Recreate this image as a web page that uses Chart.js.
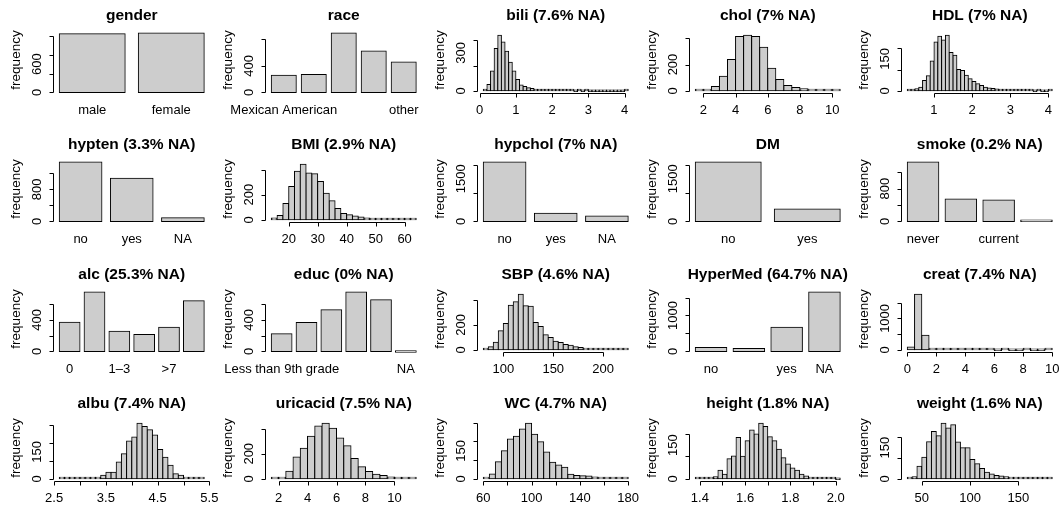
<!DOCTYPE html>
<html>
<head>
<meta charset="utf-8">
<script src="https://cdn.jsdelivr.net/npm/chart.js@4.4.1/dist/chart.umd.min.js"></script>
<style>
  html, body { margin: 0; padding: 0; background: #fff; overflow: hidden; }
  #grid { position: relative; width: 1060px; height: 506px; overflow: hidden; }
  #grid canvas { position: absolute; }
</style>
</head>
<body>
<div id="grid"></div>
<script>
// ---- data ----
const genderCats = ['male', 'female'];
const genderCounts = [1250, 1264];
const genderYTicks = [0, 200, 400, 600, 800, 1000, 1200];

const raceCats = ['Mexican American', 'Other Hispanic', 'Non-Hispanic White', 'Non-Hispanic Black', 'other'];
const raceCounts = [259, 269, 893, 624, 457];
const raceShown = ['Mexican American', 'other'];
const raceYTicks = [0, 200, 400, 600, 800];

const biliCounts = [13, 50, 157, 334, 440, 387, 313, 225, 157, 90, 45, 34, 24, 18, 10, 8, 5, 4, 3, 3,
  2, 2, 1, 1, 1, 0, 1, 0, 1, 0, 0, 0, 0, 0, 0, 0, 0, 0, 0, 1];
const biliBreaks = [0.1, 0.1]; // first break, bin width
const biliXTicks = [0, 1, 2, 3, 4];

const cholCounts = [2, 5, 33, 111, 238, 413, 423, 413, 332, 172, 86, 40, 25, 15, 8, 5, 4, 2];
const cholBreaks = [1.5, 0.5];
const cholXTicks = [2, 4, 6, 8, 10];

const hdlCounts = [2, 3, 9, 17, 49, 71, 140, 230, 257, 240, 262, 180, 167, 100, 96, 73, 57, 44, 33, 25,
  17, 13, 11, 8, 6, 5, 4, 3, 2, 2, 1, 1, 1, 0, 1, 0, 0, 1];
const hdlBreaks = [0.3, 0.1];
const hdlXTicks = [1, 2, 3, 4];

const hyptenCats = ['no', 'yes', 'NA'];
const hyptenCounts = [1480, 1075, 88];
const hyptenYTicks = [0, 200, 400, 600, 800, 1000, 1200, 1400];

const bmiCounts = [14, 35, 130, 265, 386, 443, 373, 368, 305, 211, 151, 89, 51, 41, 30, 22, 14, 11, 8, 5, 3, 3, 2, 2, 2];
const bmiBreaks = [14, 2];
const bmiXTicks = [20, 30, 40, 50, 60];

const hypcholCats = ['no', 'yes', 'NA'];
const hypcholCounts = [2090, 283, 190];
const dmCats = ['no', 'yes'];
const dmCounts = [2092, 438];
const big2000Ticks = [0, 500, 1000, 1500, 2000];

const smokeCats = ['never', 'former', 'current', 'NA'];
const smokeCounts = [1453, 551, 526, 5];
const smokeShown = ['never', 'current'];

const alcCats = ['0', '<=1', '1\u20133', '3\u20137', '>7', 'NA'];
const alcCounts = [370, 753, 255, 213, 306, 643];
const alcShown = ['0', '1\u20133', '>7'];
const educCats = ['Less than 9th grade', '9-11th grade', 'High school graduate', 'some college', 'College graduate or above', 'NA'];
const educCounts = [225, 366, 528, 753, 655, 0];
const educShown = ['Less than 9th grade', 'NA'];
const y700Ticks = [0, 100, 200, 300, 400, 500, 600, 700];

const sbpCounts = [11, 24, 61, 152, 211, 357, 384, 445, 352, 349, 219, 187, 120, 99, 69, 59, 43, 37, 24, 19,
  11, 8, 5, 5, 3, 2, 2, 1, 2];
const sbpBreaks = [80, 5];
const sbpXTicks = [100, 150, 200];

const hypermedCats = ['no', 'previous', 'yes', 'NA'];
const hypermedCounts = [112, 84, 673, 1654];
const hypermedShown = ['no', 'yes', 'NA'];
const y1500Ticks = [0, 500, 1000, 1500];

const creatCounts = [85, 1771, 467, 21, 10, 5, 3, 2, 2, 1, 1, 1, 0, 1, 0, 0, 1, 0, 0, 1];
const creatBreaks = [0, 0.5];
const creatXTicks = [0, 2, 4, 6, 8, 10];

const albuCounts = [1, 2, 3, 3, 2, 5, 7, 7, 19, 36, 36, 94, 139, 210, 233, 309, 291, 272, 244, 163,
  120, 75, 28, 19, 9, 6, 2, 1];
const albuBreaks = [2.6, 0.1];
const albuXTicks = [2.5, 3, 3.5, 4, 4.5, 5, 5.5];
const albuXLabels = ['2.5', '3.5', '4.5', '5.5'];

const uricCounts = [1, 11, 60, 175, 244, 340, 422, 444, 403, 326, 263, 162, 96, 58, 36, 27, 14, 5, 3, 3];
const uricBreaks = [1.5, 0.5];
const uricXTicks = [2, 4, 6, 8, 10];

const wcCounts = [7, 26, 92, 151, 213, 228, 267, 298, 239, 199, 143, 88, 74, 62, 24, 18, 16, 15, 9, 4, 2, 2, 2, 1];
const wcBreaks = [60, 5];
const wcXTicks = [60, 80, 100, 120, 140, 160, 180];
const wcXLabels = ['60', '100', '140', '180'];

const heightCounts = [1, 2, 3, 6, 9, 38, 20, 89, 101, 184, 100, 169, 217, 199, 247, 232, 187, 169, 131, 93,
  66, 48, 38, 20, 12, 6, 3, 2, 1, 3, 1, 0];
const heightBreaks = [1.38, 0.02];
const heightXTicks = [1.4, 1.5, 1.6, 1.7, 1.8, 1.9, 2.0];
const heightXLabels = ['1.4', '1.6', '1.8', '2.0'];

const weightCounts = [2, 10, 60, 104, 179, 228, 207, 268, 245, 261, 178, 150, 150, 93, 72, 49, 31, 23, 16, 13,
  10, 7, 5, 4, 3, 3, 2, 1, 1, 1];
const weightBreaks = [35, 5];
const weightXTicks = [50, 100, 150];

const y400Ticks = [0, 100, 200, 300, 400];
const y250Ticks = [0, 50, 100, 150, 200, 250];
const y300Ticks = [0, 50, 100, 150, 200, 250, 300];

// ---- panel specs ----
function barSpec(title, cats, counts, shown, yTicks, yLabels) {
  return { kind: 'bar', title, cats, counts, shown: shown || cats, yTicks, yLabels };
}
function histSpec(title, counts, breaks, xTicks, xLabels, yTicks, yLabels) {
  return { kind: 'hist', title, counts, from: breaks[0], by: breaks[1], xTicks,
    xLabels: xLabels || xTicks.map(String), yTicks, yLabels };
}

const panels = [
  barSpec('gender', genderCats, genderCounts, null, genderYTicks, [0, 600]),
  barSpec('race', raceCats, raceCounts, raceShown, raceYTicks, [0, 400]),
  histSpec('bili (7.6% NA)', biliCounts, biliBreaks, biliXTicks, null, y400Ticks, [0, 300]),
  histSpec('chol (7% NA)', cholCounts, cholBreaks, cholXTicks, null, y400Ticks, [0, 200]),
  histSpec('HDL (7% NA)', hdlCounts, hdlBreaks, hdlXTicks, null, y250Ticks, [0, 150]),

  barSpec('hypten (3.3% NA)', hyptenCats, hyptenCounts, null, hyptenYTicks, [0, 800]),
  histSpec('BMI (2.9% NA)', bmiCounts, bmiBreaks, bmiXTicks, null, y400Ticks, [0, 200]),
  barSpec('hypchol (7% NA)', hypcholCats, hypcholCounts, null, big2000Ticks, [0, 1500]),
  barSpec('DM', dmCats, dmCounts, null, big2000Ticks, [0, 1500]),
  barSpec('smoke (0.2% NA)', smokeCats, smokeCounts, smokeShown, hyptenYTicks, [0, 800]),

  barSpec('alc (25.3% NA)', alcCats, alcCounts, alcShown, y700Ticks, [0, 400]),
  barSpec('educ (0% NA)', educCats, educCounts, educShown, y700Ticks, [0, 400]),
  histSpec('SBP (4.6% NA)', sbpCounts, sbpBreaks, sbpXTicks, null, y400Ticks, [0, 200]),
  barSpec('HyperMed (64.7% NA)', hypermedCats, hypermedCounts, hypermedShown, y1500Ticks, [0, 1000]),
  histSpec('creat (7.4% NA)', creatCounts, creatBreaks, creatXTicks, null, y1500Ticks, [0, 1000]),

  histSpec('albu (7.4% NA)', albuCounts, albuBreaks, albuXTicks, albuXLabels, y300Ticks, [0, 150]),
  histSpec('uricacid (7.5% NA)', uricCounts, uricBreaks, uricXTicks, null, y400Ticks, [0, 200]),
  histSpec('WC (4.7% NA)', wcCounts, wcBreaks, wcXTicks, wcXLabels, y300Ticks, [0, 150]),
  histSpec('height (1.8% NA)', heightCounts, heightBreaks, heightXTicks, heightXLabels, y250Ticks, [0, 150]),
  histSpec('weight (1.6% NA)', weightCounts, weightBreaks, weightXTicks, null, y250Ticks, [0, 150])
];

// ---- layout ----
const COL_W = 212;
const BLEED = 14;             // extra canvas room so edge labels are not cut
const ROW_TOP = [0, 129, 259, 388];
const CANVAS_H = 130;
const PAD = { left: 53.5 + BLEED, right: 2 + BLEED, top: 33, bottom: 37 };
const FONT = '"Liberation Sans", Arial, Helvetica, sans-serif';
const FILL = '#cdcdcd';

// draws the R-like axes, labels and title from the chart's own scales
function rAxes(spec) {
  return {
    id: 'rAxes',
    afterDraw(chart) {
      const ctx = chart.ctx, a = chart.chartArea;
      const xs = chart.scales.x, ys = chart.scales.y;
      ctx.save();
      ctx.fillStyle = '#000';
      ctx.strokeStyle = '#000';
      ctx.lineWidth = 1;

      // title
      ctx.font = 'bold 15.5px ' + FONT;
      ctx.textAlign = 'center';
      ctx.textBaseline = 'middle';
      ctx.fillText(spec.title, (a.left + a.right) / 2, a.top - 17.5);

      // y axis
      const ax = Math.floor(a.left) + 0.5;
      const yt = ys.ticks.map(t => t.value);
      const py = v => Math.round(ys.getPixelForValue(v)) + 0.5;
      ctx.beginPath();
      ctx.moveTo(ax, py(yt[0]));
      ctx.lineTo(ax, py(yt[yt.length - 1]));
      yt.forEach(v => { ctx.moveTo(ax, py(v)); ctx.lineTo(ax - 4, py(v)); });
      ctx.stroke();
      ctx.font = '13px ' + FONT;
      spec.yLabels.forEach(v => {
        ctx.save();
        ctx.translate(a.left - 16, ys.getPixelForValue(v));
        ctx.rotate(-Math.PI / 2);
        ctx.fillText(String(v), 0, 0);
        ctx.restore();
      });
      ctx.save();
      ctx.font = '13.5px ' + FONT;
      ctx.translate(a.left - 37, (a.top + a.bottom) / 2 - 3);
      ctx.rotate(-Math.PI / 2);
      ctx.fillText('frequency', 0, 0);
      ctx.restore();

      // x axis
      ctx.font = '13px ' + FONT;
      const ly = a.bottom + 17;
      if (spec.kind === 'hist') {
        const xt = xs.ticks.map(t => t.value);
        const px = v => Math.round(xs.getPixelForValue(v)) + 0.5;
        const by = Math.floor(a.bottom) + 0.5;
        ctx.beginPath();
        ctx.moveTo(px(xt[0]), by);
        ctx.lineTo(px(xt[xt.length - 1]), by);
        xt.forEach(v => { ctx.moveTo(px(v), by); ctx.lineTo(px(v), by + 4); });
        ctx.stroke();
        spec.xLabels.forEach(s => ctx.fillText(s, xs.getPixelForValue(parseFloat(s)), ly));
      } else {
        xs.ticks.forEach((t, i) => {
          const name = spec.cats[i];
          if (spec.shown.includes(name)) ctx.fillText(name, xs.getPixelForValue(t.value), ly);
        });
      }
      ctx.restore();
    }
  };
}

function buildChart(spec, idx) {
  const canvas = document.createElement('canvas');
  canvas.width = COL_W + 2 * BLEED;
  canvas.height = CANVAS_H;
  canvas.style.left = (idx % 5) * COL_W - BLEED + 'px';
  canvas.style.top = ROW_TOP[Math.floor(idx / 5)] + 'px';
  document.getElementById('grid').appendChild(canvas);

  const top = Math.max(...spec.counts);
  let lo, hi, points, barPct, yMin, yMax, xTickVals;
  if (spec.kind === 'hist') {
    lo = spec.from;
    hi = spec.from + spec.by * spec.counts.length;
    points = spec.counts.map((c, i) => ({ x: lo + spec.by * (i + 0.5), y: c }));
    barPct = 1;
    yMin = -0.04 * top; yMax = 1.04 * top;
    xTickVals = spec.xTicks;
  } else {
    // R barplot: width 1, space 0.2
    lo = 0.2;
    hi = 1.2 * spec.counts.length;
    points = spec.counts.map((c, i) => ({ x: 0.7 + 1.2 * i, y: c }));
    barPct = 1 / 1.2;
    yMin = -0.01 * top; yMax = top;
    xTickVals = points.map(p => p.x);
  }
  const span = hi - lo;

  return new Chart(canvas, {
    type: 'bar',
    data: {
      datasets: [{
        data: points,
        backgroundColor: FILL,
        borderColor: '#000',
        borderWidth: 1,
        borderSkipped: false,
        inflateAmount: 0.5,
        minBarLength: 1.5,
        barPercentage: barPct,
        categoryPercentage: 1,
        clip: false
      }]
    },
    options: {
      responsive: false,
      animation: false,
      events: [],
      layout: { padding: PAD },
      plugins: { legend: { display: false }, tooltip: { enabled: false }, title: { display: false } },
      scales: {
        x: {
          type: 'linear', display: false, offset: false,
          min: lo - 0.04 * span, max: hi + 0.04 * span,
          afterBuildTicks: s => { s.ticks = xTickVals.map(v => ({ value: v })); }
        },
        y: {
          type: 'linear', display: false,
          min: yMin, max: yMax,
          afterBuildTicks: s => { s.ticks = spec.yTicks.map(v => ({ value: v })); }
        }
      }
    },
    plugins: [rAxes(spec)]
  });
}

panels.forEach(buildChart);
</script>
</body>
</html>
